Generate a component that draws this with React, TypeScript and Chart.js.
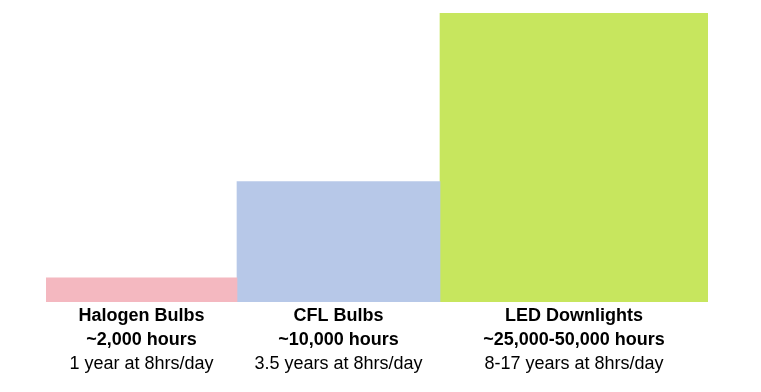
import React, { useEffect, useRef } from "react";
import { Chart, registerables } from "chart.js";

Chart.register(...registerables);

// ---- data ----
const categories = ["Halogen Bulbs", "CFL Bulbs", "LED Downlights"];
const hoursLabels = ["~2,000 hours", "~10,000 hours", "~25,000-50,000 hours"];
const yearsLabels = ["1 year at 8hrs/day", "3.5 years at 8hrs/day", "8-17 years at 8hrs/day"];
const lifetimeHours = [2000, 10000, 24000];

// ---- style ----
const barColors = ["#F4B8C0", "#B7C8E8", "#C7E65E"];
const barWidthsPx = [191, 203, 268];
const FONT = "'Liberation Sans', Arial, Helvetica, sans-serif";

export default function App() {
  const ref = useRef<HTMLCanvasElement | null>(null);

  useEffect(() => {
    if (!ref.current) return;
    const total = barWidthsPx.reduce((a, b) => a + b, 0);
    const centers: number[] = [];
    let acc = 0;
    for (const w of barWidthsPx) {
      centers.push(acc + w / 2);
      acc += w;
    }
    const setTicks = (scale: any) => {
      scale.ticks = centers.map((v) => ({ value: v }));
    };

    const chart = new Chart(ref.current, {
      type: "bar",
      data: {
        datasets: categories.map((c, i) => ({
          label: c,
          data: [{ x: centers[i], y: lifetimeHours[i] }],
          backgroundColor: barColors[i],
          borderWidth: 0,
          barThickness: barWidthsPx[i],
          stack: "one",
        })),
      },
      options: {
        animation: false,
        responsive: false,
        devicePixelRatio: 1,
        layout: { padding: { left: 46, right: 53, top: 13, bottom: 18 } },
        plugins: {
          legend: { display: false },
          tooltip: { enabled: false },
        },
        scales: {
          x: {
            type: "linear",
            position: "bottom",
            min: 0,
            max: total,
            offset: false,
            stacked: true,
            grid: { display: false, drawTicks: false },
            border: { display: false },
            afterBuildTicks: setTicks,
            ticks: {
              autoSkip: false,
              maxRotation: 0,
              padding: 2,
              color: "#000",
              font: { family: FONT, size: 18, weight: "bold", lineHeight: "24px" },
              callback: (_v: any, i: number) => [categories[i], hoursLabels[i]],
            },
          },
          x2: {
            type: "linear",
            position: "bottom",
            min: 0,
            max: total,
            offset: false,
            grid: { display: false, drawTicks: false },
            border: { display: false },
            afterBuildTicks: setTicks,
            ticks: {
              autoSkip: false,
              maxRotation: 0,
              padding: -2,
              color: "#000",
              font: { family: FONT, size: 18, weight: "normal", lineHeight: "24px" },
              callback: (_v: any, i: number) => yearsLabels[i],
            },
          },
          y: {
            display: false,
            min: 0,
            max: 24000,
            stacked: false,
          },
        },
      } as any,
    });
    return () => chart.destroy();
  }, []);

  return (
    <div style={{ position: "absolute", left: 0, top: 0, width: 761, height: 392, background: "#fff" }}>
      <canvas ref={ref} width={761} height={392} />
    </div>
  );
}
